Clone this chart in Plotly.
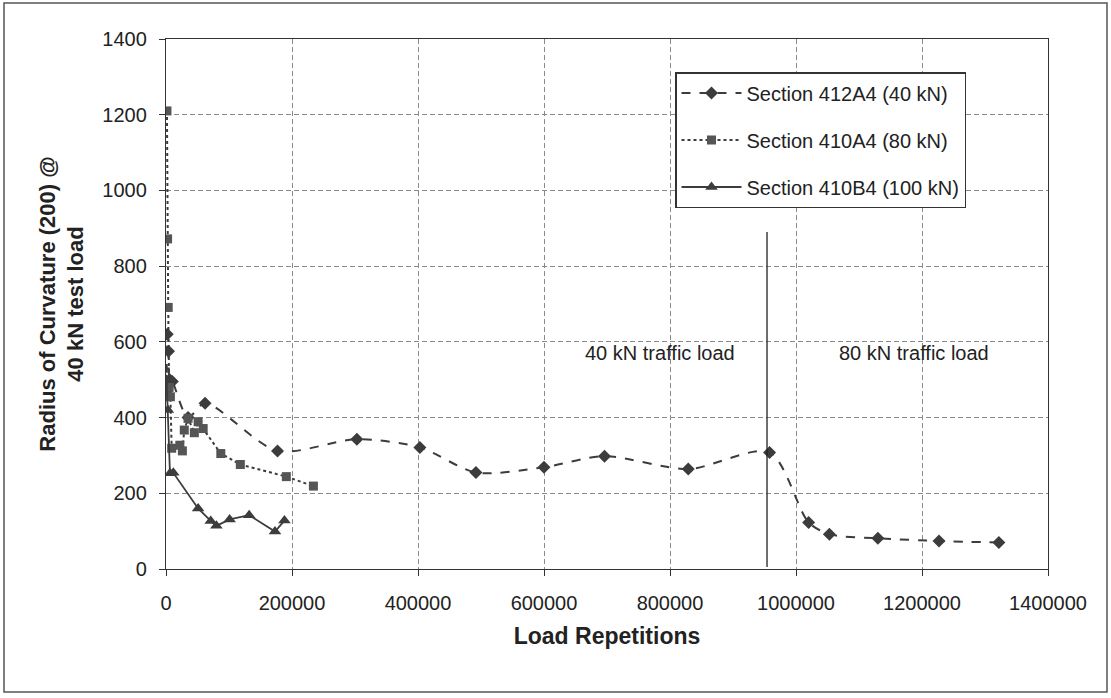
import plotly.graph_objects as go

# ---- data ----
x_412A4 = [1000, 2000, 4000, 6000, 10000, 35000, 62000, 177000, 303000, 403000,
           492000, 600000, 696000, 829000, 958000, 1020000, 1053000, 1130000,
           1227000, 1322000]
y_412A4 = [470, 620, 575, 500, 495, 400, 438, 312, 343, 321,
           255, 269, 298, 264, 308, 123, 92, 81, 74, 70]

x_410A4 = [1500, 2500, 3500, 5000, 7000, 9000, 22000, 26000, 29000, 35000,
           45000, 51000, 59000, 87000, 118000, 191000, 234000]
y_410A4 = [1210, 872, 691, 480, 455, 319, 327, 312, 367, 398,
           360, 389, 371, 305, 276, 244, 219]

x_410B4 = [1000, 3000, 6300, 11600, 51000, 71000, 80000, 101000, 132000, 173000, 188000]
y_410B4 = [500, 420, 253, 254, 160, 127, 114, 131, 142, 99, 128]

names = ["Section 412A4 (40 kN)", "Section 410A4 (80 kN)", "Section 410B4 (100 kN)"]
x_range = [0, 1400000]
y_range = [0, 1400]
x_dtick = 200000
y_dtick = 200
boundary_x = 954000          # change of traffic load
boundary_top = 890
labels = ["40 kN traffic load", "80 kN traffic load"]
label_x = [784000, 1187000]
label_y = 570

FONT = "Arial, Liberation Sans, sans-serif"
ink = "#3c3c3c"

fig = go.Figure()
fig.add_trace(go.Scatter(
    x=x_412A4, y=y_412A4, name=names[0], mode="lines+markers",
    line=dict(color=ink, width=2, dash="dash", shape="spline", smoothing=0.8),
    marker=dict(symbol="diamond", size=10, color=ink),
    legendgroup="a"))
fig.add_trace(go.Scatter(
    x=x_410A4, y=y_410A4, name=names[1], mode="lines+markers",
    line=dict(color=ink, width=2, dash="dot"),
    marker=dict(symbol="square", size=9, color="#555555"),
    legendgroup="b"))
fig.add_trace(go.Scatter(
    x=x_410B4, y=y_410B4, name=names[2], mode="lines+markers",
    line=dict(color=ink, width=1.8),
    marker=dict(symbol="triangle-up", size=11, color=ink),
    legendgroup="c"))

fig.add_shape(type="line", xref="x", yref="y",
              x0=boundary_x, x1=boundary_x, y0=5, y1=boundary_top,
              line=dict(color="#222222", width=1.3))

for t, lx in zip(labels, label_x):
    fig.add_annotation(x=lx, y=label_y, xref="x", yref="y", text=t,
                       showarrow=False, font=dict(family=FONT, size=20, color="#222222"))

# outer frame
W, H = 1111, 698
L, R, T, B = 166, 63, 39, 129
pw, ph = W - L - R, H - T - B
def px(xp): return (xp - L) / pw
def py(yp): return (H - B - yp) / ph
fig.add_shape(type="rect", xref="paper", yref="paper",
              x0=px(4), x1=px(1107), y0=py(3), y1=py(692),
              line=dict(color="#555555", width=1.5))

grid = dict(showgrid=True, gridcolor="#8a8a8a", griddash="5px,3px", gridwidth=1)
fig.update_xaxes(range=x_range, dtick=x_dtick, tick0=0, tickformat="d", **grid,
                 showline=True, linecolor="#333333", linewidth=1.3, mirror=True,
                 ticks="outside", ticklen=6, tickcolor="#333333",
                 tickfont=dict(family=FONT, size=20, color="#222222"),
                 ticklabelstandoff=10, zeroline=False,
                 title=dict(text="<b>Load Repetitions</b>",
                            font=dict(family=FONT, size=23, color="#222222"), standoff=14))
fig.update_yaxes(range=y_range, dtick=y_dtick, tick0=0, tickformat="d", **grid,
                 showline=True, linecolor="#333333", linewidth=1.3, mirror=True,
                 ticks="outside", ticklen=6, tickcolor="#333333",
                 tickfont=dict(family=FONT, size=20, color="#222222"),
                 ticklabelstandoff=8, zeroline=False,
                 title=dict(text="<b>Radius of Curvature (200) @<br>40 kN test load</b>",
                            font=dict(family=FONT, size=22, color="#222222"), standoff=12))

fig.update_layout(
    width=W, height=H,
    margin=dict(l=L, r=R, t=T, b=B, autoexpand=False),
    paper_bgcolor="white", plot_bgcolor="white",
    font=dict(family=FONT, color="#222222"),
    legend=dict(x=px(675), y=py(72), xanchor="left", yanchor="top",
                bgcolor="white", bordercolor="#333333", borderwidth=1.5,
                font=dict(family=FONT, size=20, color="#222222"),
                itemwidth=60, tracegroupgap=18),
    showlegend=True,
)

fig.write_html("out.html")
